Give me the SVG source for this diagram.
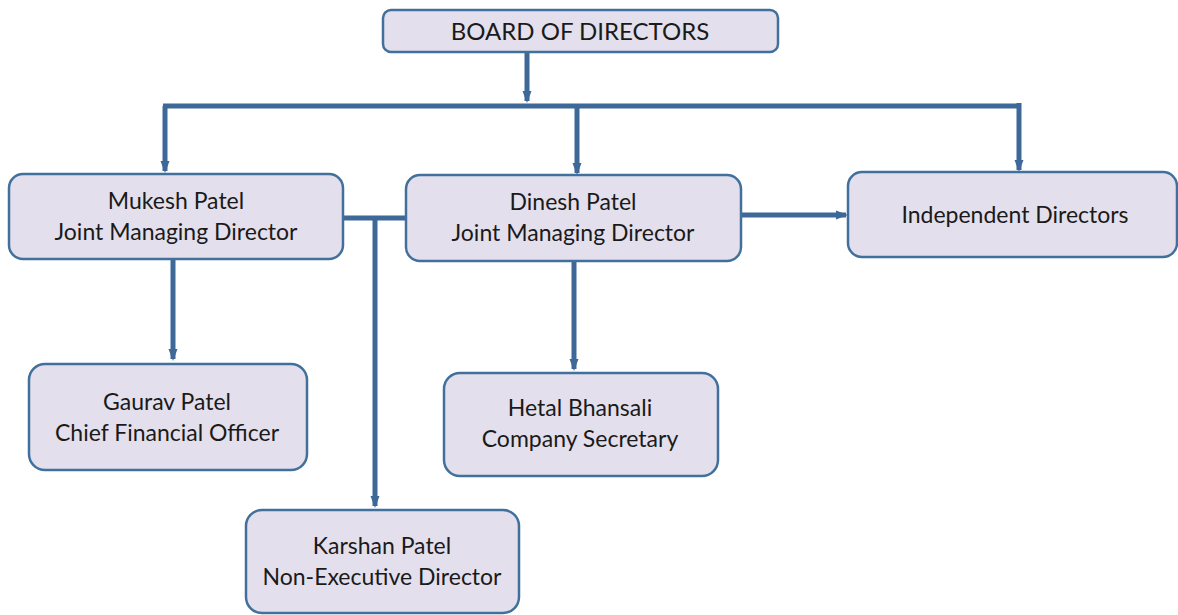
<svg xmlns="http://www.w3.org/2000/svg" width="1178" height="615" viewBox="0 0 1178 615">
<style>
.box{fill:#E4DFEC;stroke:#41709C;stroke-width:2.5}
.t{font-family:Lato,"Open Sans","Liberation Sans",sans-serif;font-size:23px;fill:#1a1a1a;text-anchor:middle}
.tb{font-size:24px}
.c{fill:none;stroke:#3D6898;stroke-width:5}
</style>
<defs>
<marker id="ah" markerUnits="userSpaceOnUse" markerWidth="12" markerHeight="10" viewBox="0 0 12 10" refX="10" refY="5" orient="auto">
<path d="M0,0.5 L12,5 L0,9.5 Z" fill="#3D6898"/>
</marker>
</defs>
<rect width="1178" height="615" fill="#fff"/>
<g id="connectors">
<path class="c" d="M527,52 V101" marker-end="url(#ah)"/>
<path class="c" d="M163,106 H1020"/>
<path class="c" d="M165,106 V171" marker-end="url(#ah)"/>
<path class="c" d="M577,106 V173" marker-end="url(#ah)"/>
<path class="c" d="M1019,103 V170" marker-end="url(#ah)"/>
<path class="c" d="M343,218 H406"/>
<path class="c" d="M375,218 V506" marker-end="url(#ah)"/>
<path class="c" d="M741,215 H846" marker-end="url(#ah)"/>
<path class="c" d="M173,259 V359" marker-end="url(#ah)"/>
<path class="c" d="M574,262 V369" marker-end="url(#ah)"/>
</g>
<g id="board">
<rect class="box" x="383" y="10" width="395" height="42" rx="8"/>
<text class="t tb" x="580" y="40">BOARD OF DIRECTORS</text>
</g>
<g id="mukesh">
<rect class="box" x="9" y="174" width="334" height="85" rx="14"/>
<text class="t" x="176" y="209">Mukesh Patel</text>
<text class="t" x="176" y="240">Joint Managing Director</text>
</g>
<g id="dinesh">
<rect class="box" x="406" y="175" width="335" height="86" rx="14"/>
<text class="t" x="573" y="210">Dinesh Patel</text>
<text class="t" x="573" y="241">Joint Managing Director</text>
</g>
<g id="independent">
<rect class="box" x="848" y="172" width="329" height="85" rx="14"/>
<text class="t" x="1015" y="223">Independent Directors</text>
</g>
<g id="gaurav">
<rect class="box" x="29" y="364" width="278" height="106" rx="16"/>
<text class="t" x="167" y="410">Gaurav Patel</text>
<text class="t" x="167" y="441">Chief Financial Officer</text>
</g>
<g id="hetal">
<rect class="box" x="444" y="373" width="274" height="103" rx="16"/>
<text class="t" x="580" y="416">Hetal Bhansali</text>
<text class="t" x="580" y="447">Company Secretary</text>
</g>
<g id="karshan">
<rect class="box" x="246" y="510" width="273" height="103" rx="16"/>
<text class="t" x="382" y="554">Karshan Patel</text>
<text class="t" x="382" y="585">Non-Executive Director</text>
</g>
</svg>
